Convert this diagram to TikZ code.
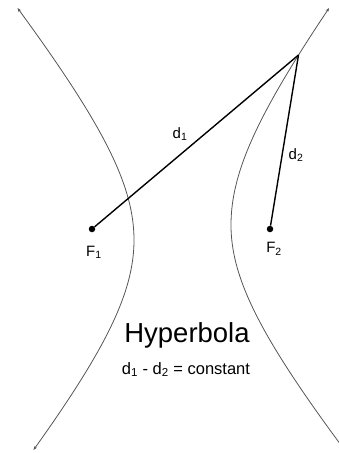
\documentclass[tikz,border=0pt]{standalone}
\usepackage{fontspec}
\setmainfont{Liberation Sans}
\usetikzlibrary{arrows.meta}
\begin{document}
\begin{tikzpicture}[x=1pt,y=-1pt,
  branch/.style={draw={rgb,255:red,85;green,85;blue,85}, line width=0.8pt,
    {Stealth[length=4pt,width=3pt]}-{Stealth[length=4pt,width=3pt]}},
  dist/.style={draw=black, line width=1.4pt},
  focus/.style={circle, fill=black, inner sep=0pt, minimum size=6.5pt},
  lbl/.style={font=\fontsize{15}{18}\selectfont, inner sep=0pt}]
\useasboundingbox (0,0) rectangle (339,453);
% hyperbola branches
\draw[branch, domain=8:450, samples=120, variable=\t]
  plot ({134-99*(sqrt(1+((\t-240)/120)^2)-1)}, \t);
\draw[branch, domain=8:449, samples=120, variable=\t]
  plot ({231+((\t<225)*92+(\t>=225)*101)*(sqrt(1+((\t-225)/120)^2)-1)}, \t);
% foci and point
\node[focus] (F1) at (92,229) {};
\node[focus] (F2) at (270,229) {};
\coordinate (P) at (298.5,55);
\draw[dist] (P) -- (F1);
\draw[dist] (P) -- (F2);
% labels
\node[lbl] (d1) at (180,134) {d\textsubscript{1}};
\node[lbl] (d2) at (296,155) {d\textsubscript{2}};
\node[lbl] (f1) at (94,252) {F\textsubscript{1}};
\node[lbl] (f2) at (274,249) {F\textsubscript{2}};
\node[font=\fontsize{27.5}{32}\selectfont, inner sep=0pt, anchor=base] (title) at (187,342.7) {Hyperbola};
\node[font=\fontsize{16.5}{20}\selectfont, inner sep=0pt, anchor=base] (eq) at (186,374) {d\textsubscript{1} - d\textsubscript{2} = constant};
\end{tikzpicture}
\end{document}
